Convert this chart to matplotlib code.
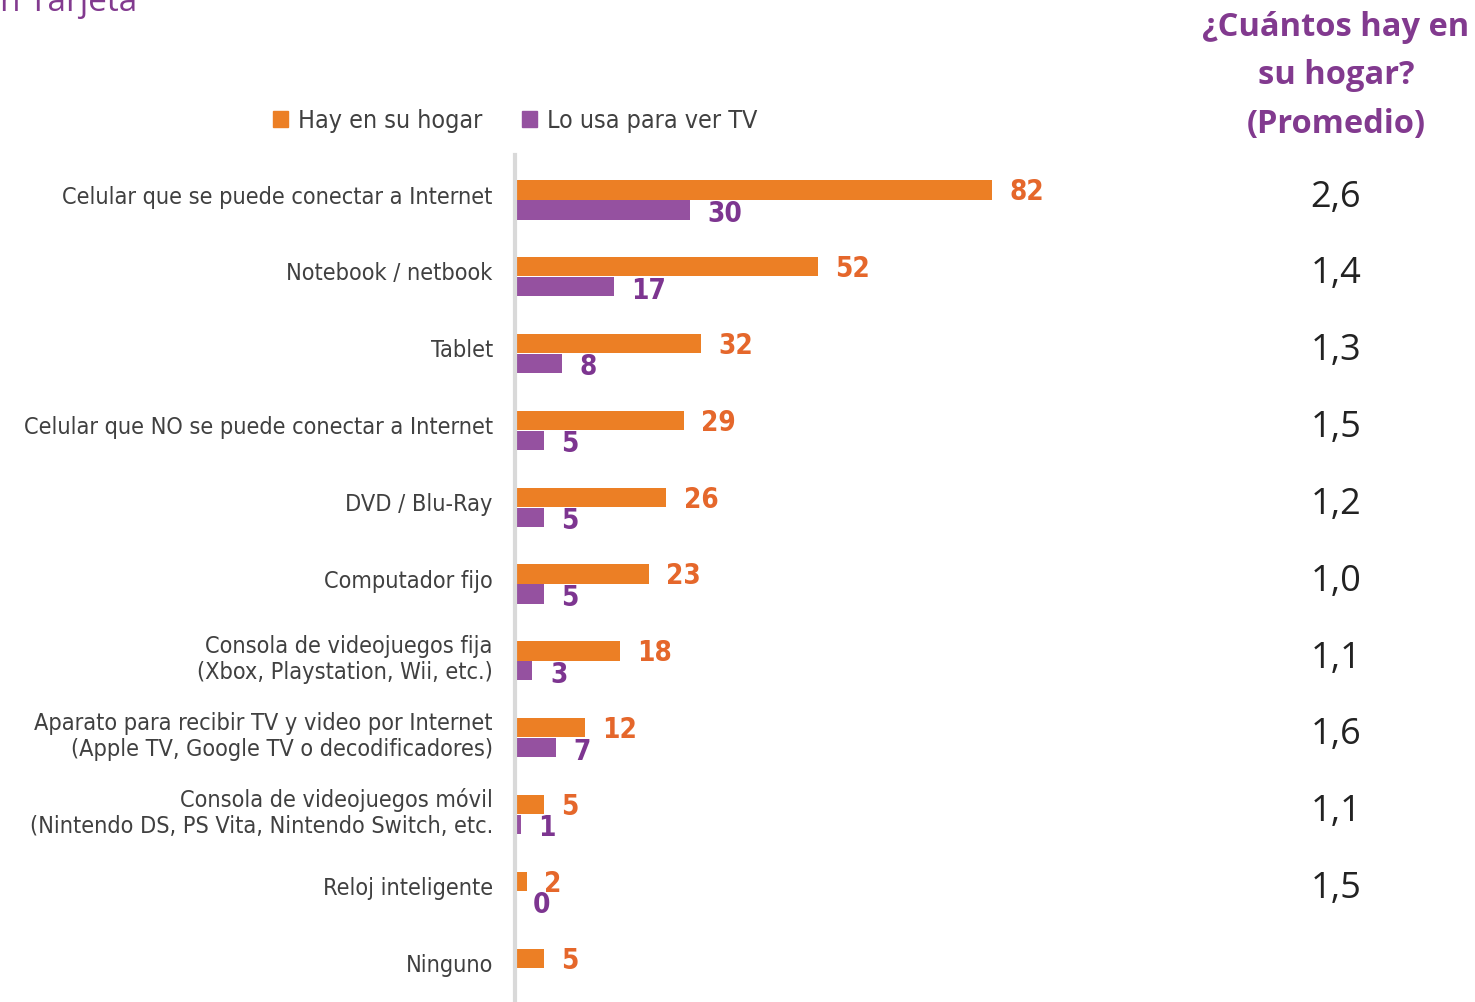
import matplotlib.pyplot as plt
import matplotlib.transforms as mtransforms
from matplotlib.patches import Patch

plt.rcParams['font.family'] = ['DejaVu Sans']
plt.rcParams['font.stretch'] = 'condensed'

categories = ["Celular que se puede conectar a Internet",
              "Notebook / netbook",
              "Tablet",
              "Celular que NO se puede conectar a Internet",
              "DVD / Blu-Ray",
              "Computador fijo",
              "Consola de videojuegos fija\n(Xbox, Playstation, Wii, etc.)",
              "Aparato para recibir TV y video por Internet\n(Apple TV, Google TV o decodificadores)",
              "Consola de videojuegos móvil\n(Nintendo DS, PS Vita, Nintendo Switch, etc.",
              "Reloj inteligente",
              "Ninguno"]
hay_en_hogar = [82, 52, 32, 29, 26, 23, 18, 12, 5, 2, 5]
usa_para_tv = [30, 17, 8, 5, 5, 5, 3, 7, 1, 0, None]
promedio = [2.6, 1.4, 1.3, 1.5, 1.2, 1.0, 1.1, 1.6, 1.1, 1.5, None]

ORANGE = '#EC7F25'
ORANGE_TXT = '#E5672B'
PURPLE = '#9551A0'
PURPLE_TXT = '#7D3590'
HEAD = '#823A8F'

W, H = 1475, 1002
fig = plt.figure(figsize=(W / 100, H / 100), dpi=100)
ax = fig.add_axes([515 / W, 0, 582 / W, (H - 155) / H])

y = list(range(len(categories)))
off = 0.13
bh = 0.25
ax.barh([i - off for i in y], hay_en_hogar, height=bh, color=ORANGE, label='Hay en su hogar')
pv = [v if v is not None else 0 for v in usa_para_tv]
ax.barh([i + off for i in y], pv, height=bh, color=PURPLE, label='Lo usa para ver TV')

for i, v in enumerate(hay_en_hogar):
    ax.text(v + 3, i - off + 0.03, str(v), color=ORANGE_TXT, fontsize=20, fontweight='bold',
            va='center', ha='left')
for i, v in enumerate(usa_para_tv):
    if v is None:
        continue
    ax.text(v + 3, i + off + 0.05, str(v), color=PURPLE_TXT, fontsize=20, fontweight='bold',
            va='center', ha='left')

ax.set_xlim(0, 100)
ax.set_ylim(10.44, -0.585)
ax.set_yticks([i - 0.07 for i in y])
ax.set_yticklabels(categories, fontsize=16.8, color='#404040', multialignment='right',
                   linespacing=1.15)
ax.tick_params(axis='y', length=0, pad=16)
ax.set_xticks([])
for s in ['top', 'right', 'bottom']:
    ax.spines[s].set_visible(False)
ax.spines['left'].set_color('#D9D9D9')
ax.spines['left'].set_linewidth(3)

# right column: average count
tr = mtransforms.blended_transform_factory(fig.transFigure, ax.transData)
for i, p in enumerate(promedio):
    if p is None:
        continue
    ax.text(1336 / W, i - 0.03, f"{p:.1f}".replace('.', ','), transform=tr, ha='center',
            va='center', fontsize=26, color='#222222', family=['Open Sans', 'DejaVu Sans'],
            fontstretch='normal')

fig.text(1336 / W, 1 - 76 / H, "¿Cuántos hay en\nsu hogar?\n(Promedio)", ha='center',
         va='center', fontsize=23.5, fontweight='bold', color=HEAD, linespacing=1.6,
         family=['Open Sans', 'DejaVu Sans'], fontstretch='normal')

# title cut off at the top edge, as in the source
fig.text(0, 1 - 19 / H, "n Tarjeta", ha='left', va='bottom', fontsize=24, color=HEAD,
         family=['Open Sans', 'DejaVu Sans'], fontstretch='normal')

handles = [Patch(color=ORANGE), Patch(color=PURPLE)]
fig.legend(handles, ['Hay en su hogar', 'Lo usa para ver TV'], loc='center left',
           bbox_to_anchor=(250 / W, 1 - 121 / H), ncol=2, frameon=False, fontsize=18,
           handlelength=0.6, handleheight=0.6, handletextpad=0.4, columnspacing=1.6,
           labelcolor='#404040')

fig.savefig('out.png', dpi=100)
